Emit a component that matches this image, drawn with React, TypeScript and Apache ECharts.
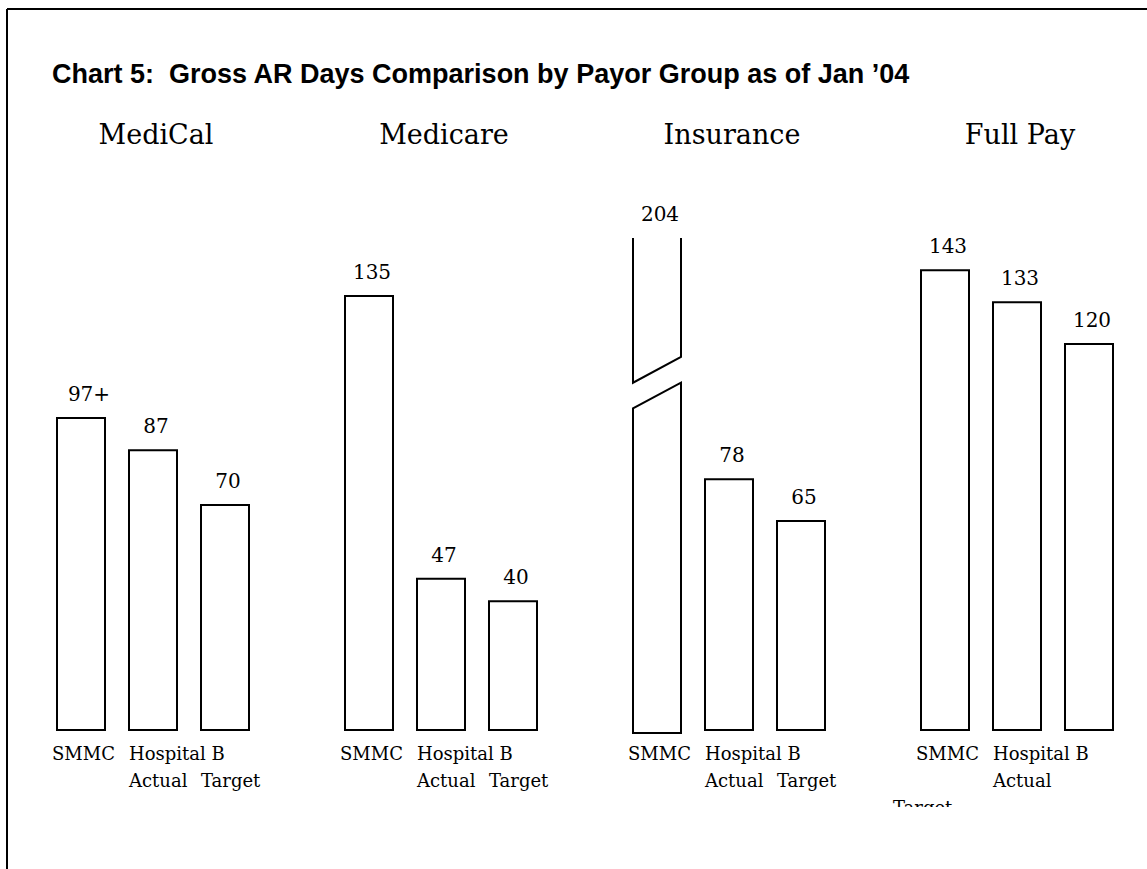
import React, { useEffect, useRef } from 'react';
import * as echarts from 'echarts';

const chartTitle = 'Chart 5:  Gross AR Days Comparison by Payor Group as of Jan \u201904';
const groups = ['MediCal', 'Medicare', 'Insurance', 'Full Pay'];
const barNames = ['SMMC', 'Hospital B Actual', 'Target'];
const barLabelLines = [
  ['SMMC', ''],
  ['Hospital B', 'Actual'],
  ['', 'Target'],
];
const mediCalValues = [97, 87, 70];
const medicareValues = [135, 47, 40];
const insuranceValues = [204, 78, 65];
const fullPayValues = [143, 133, 120];
const mediCalLabels = ['97+', '87', '70'];
const medicareLabels = ['135', '47', '40'];
const insuranceLabels = ['204', '78', '65'];
const fullPayLabels = ['143', '133', '120'];
// value axis top; a taller bar is drawn with a break
const yMax = 153;
const breakValues = [100, 108, 116];
// label that slipped below the others in the original
const displacedLabel = 'Full Pay|Target';

const groupValues = [mediCalValues, medicareValues, insuranceValues, fullPayValues];
const groupLabels = [mediCalLabels, medicareLabels, insuranceLabels, fullPayLabels];

const serif = '"DejaVu Serif", "Liberation Serif", serif';

export default function App() {
  const ref = useRef<HTMLDivElement>(null);

  useEffect(() => {
    if (!ref.current) return;
    const chart = echarts.init(ref.current, undefined, { renderer: 'svg' });

    const categories: string[] = [];
    const rows: { x: number; v: number; g: number; b: number; label: string }[] = [];
    groups.forEach((g, gi) => {
      barNames.forEach((b, bi) => {
        rows.push({ x: categories.length, v: groupValues[gi][bi], g: gi, b: bi, label: groupLabels[gi][bi] });
        categories.push(g + '|' + b);
      });
      if (gi < groups.length - 1) categories.push('gap' + gi);
    });

    const renderItem = (params: any, api: any) => {
      const row = rows[params.dataIndex];
      const xi = api.value(0);
      const v = api.value(1);
      const base = api.coord([xi, 0]);
      const topPt = api.coord([xi, v]);
      const band = api.size([1, 0])[0];
      const w = Math.round((band * 2) / 3);
      const cx = base[0];
      const left = Math.round(cx - w / 2);
      const right = left + w;
      const gridTop = params.coordSys.y;
      const broken = topPt[1] < gridTop;
      const topY = broken ? gridTop : topPt[1];
      const baseY = base[1];
      const children: any[] = [];
      const stroke = { fill: '#fff', stroke: '#000', lineWidth: 2 };
      if (!broken) {
        children.push({
          type: 'rect',
          shape: { x: left, y: topY, width: w, height: baseY - topY },
          style: stroke,
        });
      } else {
        const b0 = api.coord([xi, breakValues[0]])[1];
        const b1 = api.coord([xi, breakValues[1]])[1];
        const b2 = api.coord([xi, breakValues[2]])[1];
        children.push({
          type: 'polygon',
          shape: { points: [[left, baseY + 3], [left, b0], [right, b1], [right, baseY + 3]] },
          style: stroke,
        });
        children.push({
          type: 'polyline',
          shape: { points: [[left, topY], [left, b1], [right, b2], [right, topY]] },
          style: { fill: 'none', stroke: '#000', lineWidth: 2 },
        });
      }
      const plusShift = row.label.endsWith('+') ? 8 : 3;
      children.push({
        type: 'text',
        x: cx + plusShift,
        y: topY - 14,
        style: {
          text: row.label,
          fontFamily: serif,
          fontSize: 20,
          fill: '#000',
          align: 'center',
          verticalAlign: 'bottom',
        },
      });
      const lines = barLabelLines[row.b];
      const key = groups[row.g] + '|' + barNames[row.b];
      const dx = row.b === 0 ? -5 : 0;
      if (lines[0]) {
        children.push({
          type: 'text',
          x: left + dx,
          y: baseY + 23,
          style: { text: lines[0], fontFamily: serif, fontSize: 18, fill: '#000', align: 'left', verticalAlign: 'middle' },
        });
      }
      if (lines[1]) {
        if (key === displacedLabel) {
          children.push({
            type: 'text',
            x: left - 172,
            y: baseY + 68,
            style: { text: lines[1], fontFamily: serif, fontSize: 18, fill: '#000', align: 'left', verticalAlign: 'top' },
          });
          children.push({
            type: 'rect',
            shape: { x: left - 180, y: baseY + 77, width: 90, height: 20 },
            style: { fill: '#fff' },
          });
        } else {
          children.push({
            type: 'text',
            x: left + dx,
            y: baseY + 50,
            style: { text: lines[1], fontFamily: serif, fontSize: 18, fill: '#000', align: 'left', verticalAlign: 'middle' },
          });
        }
      }
      if (row.b === 1) {
        children.push({
          type: 'text',
          x: cx + 3,
          y: 134,
          style: {
            text: groups[row.g],
            fontFamily: serif,
            fontSize: 27,
            fill: '#000',
            align: 'center',
            verticalAlign: 'middle',
          },
        });
      }
      return { type: 'group', children };
    };

    chart.setOption({
      animation: false,
      backgroundColor: '#fff',
      graphic: [
        { type: 'line', shape: { x1: 7, y1: 9, x2: 1147, y2: 9 }, style: { stroke: '#000', lineWidth: 2 } },
        { type: 'line', shape: { x1: 7, y1: 9, x2: 7, y2: 869 }, style: { stroke: '#000', lineWidth: 2 } },
        {
          type: 'text',
          x: 52,
          y: 74,
          style: {
            text: chartTitle,
            fontFamily: '"Liberation Sans", Arial, sans-serif',
            fontWeight: 'bold',
            fontSize: 27,
            fill: '#000',
            align: 'left',
            verticalAlign: 'middle',
          },
        },
      ],
      grid: { left: 45, right: 22, top: 238, bottom: 139 },
      xAxis: {
        type: 'category',
        data: categories,
        show: false,
      },
      yAxis: {
        type: 'value',
        min: 0,
        max: yMax,
        show: false,
      },
      series: [
        {
          type: 'custom',
          clip: false,
          renderItem,
          encode: { x: 0, y: 1 },
          data: rows.map((r) => [r.x, r.v, r.g, r.b]),
        },
      ],
    });

    return () => chart.dispose();
  }, []);

  return <div ref={ref} style={{ position: 'absolute', left: 0, top: 0, width: 1147, height: 869 }} />;
}
